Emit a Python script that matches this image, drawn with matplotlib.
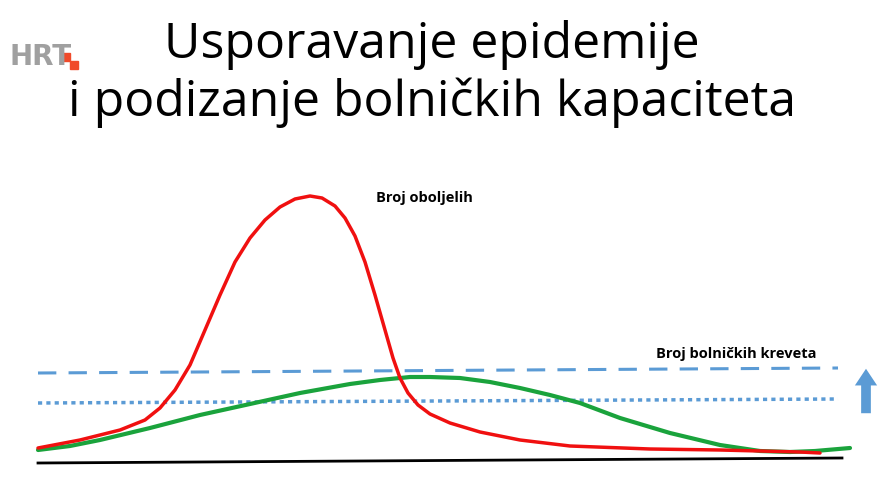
import matplotlib.pyplot as plt
from matplotlib.patches import Rectangle

# points (pixel coords, y downward)
red_x = [38, 80, 120, 145, 160, 175, 190, 205, 220, 235, 250, 265, 280, 295, 310, 322, 335, 345, 355, 365, 375, 385, 393, 400, 408, 418, 430, 450, 480, 520, 570, 650, 720, 800, 820]
red_y = [448, 440, 430, 420, 408, 390, 365, 330, 295, 262, 238, 220, 207, 199, 196, 198, 206, 218, 236, 262, 295, 330, 358, 378, 393, 405, 414, 423, 432, 440, 446, 449, 450, 452, 453]
green_x = [38, 70, 100, 150, 200, 250, 300, 350, 380, 410, 430, 460, 490, 520, 550, 580, 620, 670, 720, 760, 790, 815, 850]
green_y = [450, 446, 440, 428, 415, 404, 393, 384, 380, 377, 377, 378, 382, 388, 395, 403, 418, 433, 445, 451, 452, 451, 448]
beds_x = [38, 838]
beds_dashed = [373, 368]
beds_dotted = [403, 399]

fig = plt.figure(figsize=(8.9, 4.93), dpi=100)
ax = fig.add_axes([0, 0, 1, 1])
ax.set_xlim(0, 890)
ax.set_ylim(493, 0)
ax.axis("off")

ax.plot([38, 842], [463, 458], color="black", lw=2)
ax.plot(beds_x, beds_dashed, color="#5b9bd5", lw=2.2, dashes=(6, 4))
ax.plot(beds_x, beds_dotted, color="#5b9bd5", lw=2.5, dashes=(1.2, 1.2))
ax.plot(green_x, green_y, color="#1aa33c", lw=3, solid_capstyle="round")
ax.plot(red_x, red_y, color="#f01010", lw=2.5, solid_capstyle="round")
ax.annotate("", xy=(866, 366), xytext=(866, 416),
            arrowprops=dict(arrowstyle="simple,head_width=1.6,head_length=1.2,tail_width=0.7",
                            color="#5b9bd5", lw=0))

ax.text(432, 45, "Usporavanje epidemije", ha="center", va="center", fontsize=36, family="Open Sans")
ax.text(432, 103, "i podizanje bolničkih kapaciteta", ha="center", va="center", fontsize=36, family="Open Sans")
ax.text(424, 198, "Broj oboljelih", ha="center", va="center", fontsize=10.5, fontweight="bold", family="Open Sans")
ax.text(736, 354, "Broj bolničkih kreveta", ha="center", va="center", fontsize=10.5, fontweight="bold", family="Open Sans")

# HRT logo
ax.text(10, 57, "HRT", ha="left", va="center", fontsize=20, fontweight="bold", color="#a0a0a0", family="DejaVu Sans")
ax.add_patch(Rectangle((62, 53), 8, 8, color="#f04a2a"))
ax.add_patch(Rectangle((70, 61), 8, 8, color="#f04a2a"))

fig.savefig("out.png", dpi=100)
